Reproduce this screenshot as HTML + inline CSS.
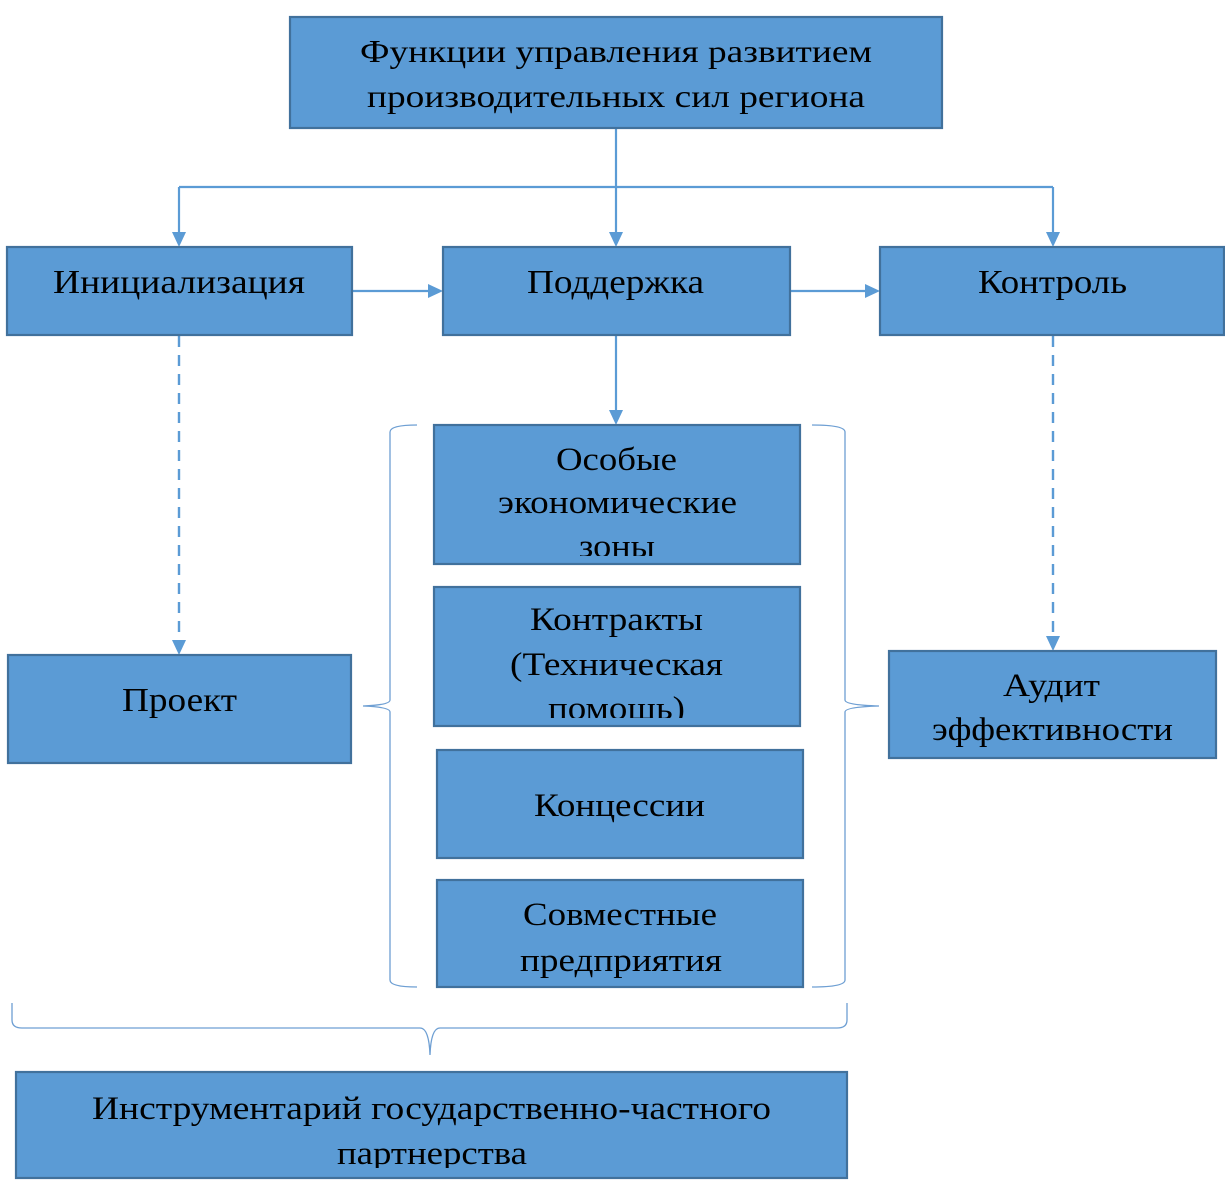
<!DOCTYPE html>
<html>
<head>
<meta charset="utf-8">
<style>
  html, body { margin: 0; padding: 0; background: #ffffff; }
  body { width: 1225px; height: 1190px; overflow: hidden; }
  svg { display: block; }
  text { font-family: "Liberation Serif", "DejaVu Serif", serif; fill: #000; }
</style>
</head>
<body>
<svg width="1225" height="1190" viewBox="0 0 1225 1190" xmlns="http://www.w3.org/2000/svg">
  <defs>
    <clipPath id="c1"><rect x="434" y="425" width="366" height="131"/></clipPath>
    <clipPath id="c2"><rect x="434" y="587" width="366" height="131"/></clipPath>
    <clipPath id="c3"><rect x="16" y="1072" width="831" height="96"/></clipPath>
  </defs>

  <!-- connectors -->
  <g stroke="#5B9BD5" stroke-width="2.2" fill="none">
    <line x1="616" y1="128" x2="616" y2="234"/>
    <line x1="179" y1="187" x2="1053" y2="187"/>
    <line x1="179" y1="187" x2="179" y2="234"/>
    <line x1="1053" y1="187" x2="1053" y2="234"/>
    <line x1="352" y1="291" x2="430" y2="291"/>
    <line x1="790" y1="291" x2="867" y2="291"/>
    <line x1="616" y1="335" x2="616" y2="412"/>
  </g>
  <g stroke="#5B9BD5" stroke-width="2.4" fill="none" stroke-dasharray="11 8">
    <line x1="179" y1="336" x2="179" y2="641"/>
    <line x1="1053" y1="336" x2="1053" y2="637"/>
  </g>
  <g fill="#5B9BD5">
    <polygon points="609,232 623,232 616,247"/>
    <polygon points="172,232 186,232 179,247"/>
    <polygon points="1046,232 1060,232 1053,247"/>
    <polygon points="428,284 428,298 443,291"/>
    <polygon points="865,284 865,298 880,291"/>
    <polygon points="609,410 623,410 616,425"/>
    <polygon points="172,640 186,640 179,655"/>
    <polygon points="1046,636 1060,636 1053,651"/>
  </g>

  <!-- braces -->
  <g stroke="#6E9FD3" stroke-width="1.3" fill="none">
    <path d="M417,425 Q390,425 390,432 L390,700 Q390,705 363,706 Q390,707 390,712 L390,980 Q390,987 417,987"/>
    <path d="M812,425 Q845,425 845,432 L845,700 Q845,705 879,706 Q845,707 845,712 L845,980 Q845,987 812,987"/>
    <path d="M12,1003 L12,1020 Q12,1028 22,1028 L420,1028 Q429,1028 430,1055 Q431,1028 440,1028 L837,1028 Q847,1028 847,1020 L847,1003"/>
  </g>

  <!-- boxes -->
  <g fill="#5B9BD5" stroke="#41719C" stroke-width="2.2">
    <rect x="290" y="17" width="652" height="111"/>
    <rect x="7" y="247" width="345" height="88"/>
    <rect x="443" y="247" width="347" height="88"/>
    <rect x="880" y="247" width="344" height="88"/>
    <rect x="8" y="655" width="343" height="108"/>
    <rect x="889" y="651" width="327" height="107"/>
    <rect x="434" y="425" width="366" height="139"/>
    <rect x="434" y="587" width="366" height="139"/>
    <rect x="437" y="750" width="366" height="108"/>
    <rect x="437" y="880" width="366" height="107"/>
    <rect x="16" y="1072" width="831" height="106"/>
  </g>

  <!-- texts -->
  <text x="360" y="62" font-size="32" textLength="512" lengthAdjust="spacingAndGlyphs">Функции управления развитием</text>
  <text x="367" y="107" font-size="32" textLength="498" lengthAdjust="spacingAndGlyphs">производительных сил региона</text>

  <text x="53" y="293" font-size="34" textLength="252" lengthAdjust="spacingAndGlyphs">Инициализация</text>
  <text x="527" y="293" font-size="34" textLength="177" lengthAdjust="spacingAndGlyphs">Поддержка</text>
  <text x="978" y="293" font-size="34" textLength="149" lengthAdjust="spacingAndGlyphs">Контроль</text>

  <text x="122" y="711" font-size="34" textLength="115" lengthAdjust="spacingAndGlyphs">Проект</text>

  <text x="1003" y="696" font-size="33" textLength="97" lengthAdjust="spacingAndGlyphs">Аудит</text>
  <text x="932" y="740" font-size="33" textLength="241" lengthAdjust="spacingAndGlyphs">эффективности</text>

  <g clip-path="url(#c1)">
    <text x="556" y="470" font-size="33" textLength="121" lengthAdjust="spacingAndGlyphs">Особые</text>
    <text x="498" y="513" font-size="33" textLength="239" lengthAdjust="spacingAndGlyphs">экономические</text>
    <text x="579" y="557" font-size="33" textLength="76" lengthAdjust="spacingAndGlyphs">зоны</text>
  </g>

  <g clip-path="url(#c2)">
    <text x="530" y="630" font-size="33" textLength="173" lengthAdjust="spacingAndGlyphs">Контракты</text>
    <text x="510" y="675" font-size="33" textLength="213" lengthAdjust="spacingAndGlyphs">(Техническая</text>
    <text x="548" y="719" font-size="33" textLength="137" lengthAdjust="spacingAndGlyphs">помощь)</text>
  </g>

  <text x="534" y="816" font-size="33" textLength="171" lengthAdjust="spacingAndGlyphs">Концессии</text>

  <text x="523" y="925" font-size="33" textLength="194" lengthAdjust="spacingAndGlyphs">Совместные</text>
  <text x="520" y="971" font-size="33" textLength="202" lengthAdjust="spacingAndGlyphs">предприятия</text>

  <g clip-path="url(#c3)">
    <text x="92" y="1119" font-size="33" textLength="679" lengthAdjust="spacingAndGlyphs">Инструментарий государственно-частного</text>
    <text x="337" y="1164" font-size="33" textLength="190" lengthAdjust="spacingAndGlyphs">партнерства</text>
  </g>
</svg>
</body>
</html>
